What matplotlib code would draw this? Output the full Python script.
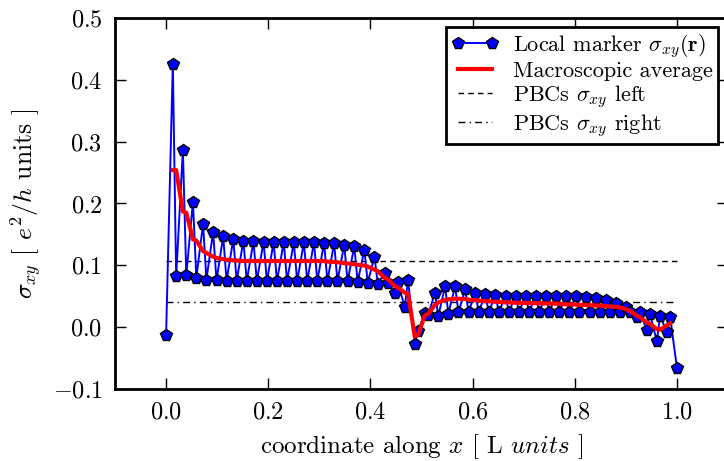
import matplotlib
matplotlib.use("Agg")
import matplotlib.pyplot as plt

plt.rcParams['font.family'] = 'serif'
plt.rcParams['font.serif'] = ['cmr10']
plt.rcParams['mathtext.fontset'] = 'cm'
plt.rcParams['axes.formatter.use_mathtext'] = True

# x positions of the lattice sites (normalised to L)
x_sites = [
    0.0000, 0.0132, 0.0197, 0.0329, 0.0395, 0.0526, 0.0592, 0.0724, 0.0789, 0.0921,
    0.0987, 0.1118, 0.1184, 0.1316, 0.1382, 0.1513, 0.1579, 0.1711, 0.1776, 0.1908,
    0.1974, 0.2105, 0.2171, 0.2303, 0.2368, 0.2500, 0.2566, 0.2697, 0.2763, 0.2895,
    0.2961, 0.3092, 0.3158, 0.3289, 0.3355, 0.3487, 0.3553, 0.3684, 0.3750, 0.3882,
    0.3947, 0.4079, 0.4145, 0.4276, 0.4342, 0.4474, 0.4539, 0.4671, 0.4737, 0.4868,
    0.4934, 0.5066, 0.5132, 0.5263, 0.5329, 0.5461, 0.5526, 0.5658, 0.5724, 0.5855,
    0.5921, 0.6053, 0.6118, 0.6250, 0.6316, 0.6447, 0.6513, 0.6645, 0.6711, 0.6842,
    0.6908, 0.7039, 0.7105, 0.7237, 0.7303, 0.7434, 0.7500, 0.7632, 0.7697, 0.7829,
    0.7895, 0.8026, 0.8092, 0.8224, 0.8289, 0.8421, 0.8487, 0.8618, 0.8684, 0.8816,
    0.8882, 0.9013, 0.9079, 0.9211, 0.9276, 0.9408, 0.9474, 0.9605, 0.9671, 0.9803,
    0.9868, 1.0000,
]

# local marker sigma_xy(r)
local_marker = [
    -0.013, 0.426, 0.082, 0.287, 0.084, 0.203, 0.080, 0.167, 0.077, 0.154,
    0.0755, 0.147, 0.075, 0.1425, 0.0748, 0.140, 0.0745, 0.139, 0.0745, 0.138,
    0.0745, 0.1375, 0.0745, 0.1375, 0.0745, 0.1372, 0.0745, 0.137, 0.0745, 0.137,
    0.0745, 0.1367, 0.0745, 0.1357, 0.0742, 0.1335, 0.074, 0.131, 0.0735, 0.125,
    0.072, 0.114, 0.070, 0.088, 0.071, 0.055, 0.073, 0.032, 0.077, -0.027,
    -0.006, 0.023, 0.020, 0.056, 0.018, 0.066, 0.022, 0.066, 0.024, 0.061,
    0.0246, 0.056, 0.0246, 0.053, 0.0246, 0.0516, 0.0246, 0.0505, 0.0246, 0.0505,
    0.0246, 0.0505, 0.0246, 0.0505, 0.0246, 0.0503, 0.0246, 0.0502, 0.0246, 0.050,
    0.0246, 0.0497, 0.0245, 0.049, 0.0245, 0.0467, 0.0244, 0.044, 0.0244, 0.0397,
    0.0244, 0.032, 0.0244, 0.016, 0.0246, -0.0045, 0.021, -0.0225, 0.018, -0.008,
    0.016, -0.0655,
]

# macroscopic average (sites 1..100)
macro_avg = [
    0.254, 0.254, 0.187, 0.185, 0.142, 0.140, 0.123, 0.120, 0.114, 0.112,
    0.110, 0.109, 0.108, 0.1078, 0.107, 0.107, 0.107, 0.107, 0.107, 0.107,
    0.107, 0.107, 0.107, 0.107, 0.107, 0.107, 0.107, 0.107, 0.107, 0.107,
    0.107, 0.106, 0.1055, 0.105, 0.1035, 0.103, 0.1017, 0.101, 0.0995, 0.098,
    0.093, 0.0905, 0.080, 0.0775, 0.067, 0.064, 0.056, 0.054, -0.015, -0.012,
    0.019, 0.0215, 0.036, 0.040, 0.044, 0.045, 0.046, 0.046, 0.0455, 0.0445,
    0.0435, 0.043, 0.042, 0.042, 0.041, 0.041, 0.040, 0.040, 0.0395, 0.0393,
    0.039, 0.039, 0.0388, 0.0386, 0.0384, 0.0382, 0.038, 0.0378, 0.037, 0.037,
    0.0365, 0.036, 0.036, 0.0355, 0.035, 0.035, 0.034, 0.0335, 0.033, 0.032,
    0.029, 0.026, 0.019, 0.016, 0.008, 0.005, -0.003, -0.004, 0.003, 0.006,
]

pbc_left = 0.107
pbc_right = 0.041
pbc_x = [0.0, 1.0]

xticks = [0.0, 0.2, 0.4, 0.6, 0.8, 1.0]
yticks = [-0.1, 0.0, 0.1, 0.2, 0.3, 0.4, 0.5]

W, H = 724, 461
fig = plt.figure(figsize=(W / 100, H / 100), dpi=100)
ax = fig.add_axes([115 / W, 1 - 389 / H, (728 - 115) / W, (389 - 18) / H])

ax.plot(x_sites, local_marker, '-', color='blue', lw=1.4, marker='p',
        markersize=8.5, markerfacecolor='blue', markeredgecolor='black',
        markeredgewidth=1.0, label=r'Local marker $\sigma_{xy}(\mathbf{r})$', zorder=3)
ax.plot(x_sites[1:101], macro_avg, '-', color='red', lw=3.0,
        label='Macroscopic average', zorder=4)
ax.plot(pbc_x, [pbc_left, pbc_left], color='black', lw=1.0, dashes=(4, 3),
        label=r'PBCs $\sigma_{xy}$ left', zorder=2)
ax.plot(pbc_x, [pbc_right, pbc_right], color='black', lw=1.0, dashes=(5, 3, 1, 3),
        label=r'PBCs $\sigma_{xy}$ right', zorder=2)

ax.set_xlim(-0.1, 1.1)
ax.set_ylim(-0.1, 0.5)
ax.set_xticks(xticks)
ax.set_yticks(yticks)
ax.tick_params(direction='in', length=8, width=1.0, top=True, right=True,
               labelsize=17.5, pad=9)
for s in ax.spines.values():
    s.set_linewidth(2.0)

ax.set_xlabel(r'coordinate along $x$ [ L $units$ ]', fontsize=18, labelpad=6)
ax.set_ylabel(r'$\sigma_{xy}$ [ $e^2/h$ units ]', fontsize=18.5, labelpad=6)

leg = ax.legend(loc='upper right', bbox_to_anchor=(718 / W, 1 - 27 / H),
                bbox_transform=fig.transFigure, borderaxespad=0, fontsize=16,
                numpoints=2, fancybox=False, framealpha=1, edgecolor='black',
                handlelength=2.15, handletextpad=0.65, labelspacing=0.08,
                borderpad=0.22)
leg.get_frame().set_linewidth(2.0)

fig.savefig('out.png', dpi=100)
